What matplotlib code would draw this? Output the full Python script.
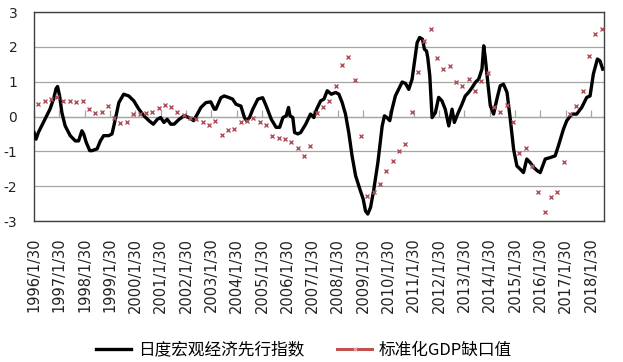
import matplotlib
matplotlib.use('Agg')
import matplotlib.pyplot as plt
import pandas as pd
from matplotlib.lines import Line2D

plt.rcParams['axes.unicode_minus'] = False

# daily leading index (decimal years)
idx_year = [1996.08, 1996.16, 1996.25, 1996.45, 1996.71, 1996.85, 1996.95,
            1997.01, 1997.09, 1997.18, 1997.31, 1997.51, 1997.71, 1997.84, 1997.97,
            1998.04, 1998.14, 1998.28, 1998.37, 1998.57, 1998.70, 1998.83,
            1999.03, 1999.16, 1999.29, 1999.43, 1999.62, 1999.82,
            2000.02, 2000.22, 2000.42, 2000.62, 2000.79, 2000.95,
            2001.08, 2001.21, 2001.34, 2001.48, 2001.61, 2001.81,
            2002.01, 2002.20, 2002.38, 2002.53, 2002.67, 2002.87,
            2003.06, 2003.20, 2003.26, 2003.46, 2003.59, 2003.79, 2003.92,
            2004.06, 2004.25, 2004.39, 2004.48, 2004.59, 2004.72, 2004.92,
            2005.11, 2005.25, 2005.45, 2005.64, 2005.78, 2005.91,
            2006.04, 2006.13, 2006.19, 2006.30, 2006.37, 2006.50,
            2006.61, 2006.81, 2007.00, 2007.13, 2007.24, 2007.40, 2007.53, 2007.66, 2007.82, 2007.99,
            2008.12, 2008.25, 2008.38, 2008.51, 2008.64, 2008.78, 2008.95,
            2009.08, 2009.17, 2009.26, 2009.37, 2009.50, 2009.66, 2009.83, 2009.92,
            2010.02, 2010.13, 2010.22, 2010.35, 2010.48, 2010.62, 2010.75, 2010.88,
            2011.01, 2011.10, 2011.21, 2011.31, 2011.42, 2011.50, 2011.58, 2011.63, 2011.71, 2011.80, 2011.93,
            2012.06, 2012.19, 2012.32, 2012.46, 2012.59, 2012.68, 2012.81, 2012.98,
            2013.11, 2013.24, 2013.38, 2013.51, 2013.64, 2013.77, 2013.84, 2013.90,
            2014.00, 2014.10, 2014.23, 2014.36, 2014.49, 2014.62, 2014.76, 2014.89,
            2015.02, 2015.15, 2015.28, 2015.41, 2015.54, 2015.67, 2015.81, 2015.96,
            2016.07, 2016.27, 2016.46, 2016.66, 2016.79, 2016.99,
            2017.12, 2017.32, 2017.51, 2017.71, 2017.91,
            2018.04, 2018.17, 2018.33, 2018.43, 2018.54]
idx_value = [-0.46, -0.65, -0.46, -0.17, 0.21, 0.50, 0.80,
             0.86, 0.59, 0.11, -0.27, -0.55, -0.70, -0.70, -0.41,
             -0.50, -0.74, -0.98, -0.98, -0.93, -0.70, -0.55,
             -0.55, -0.50, -0.08, 0.40, 0.64, 0.59,
             0.45, 0.21, 0.02, -0.12, -0.22, -0.08,
             -0.03, -0.17, -0.08, -0.22, -0.22, -0.08,
             0.02, -0.03, -0.12, 0.07, 0.26, 0.40,
             0.42, 0.21, 0.21, 0.54, 0.59, 0.54, 0.50,
             0.35, 0.30, -0.03, -0.12, -0.03, 0.21, 0.50,
             0.54, 0.30, -0.08, -0.31, -0.31, -0.03,
             0.02, 0.26, 0.02, -0.03, -0.46, -0.50,
             -0.46, -0.22, 0.07, -0.03, 0.21, 0.45, 0.50, 0.74, 0.64, 0.69,
             0.64, 0.40, 0.07, -0.46, -1.13, -1.70, -2.09,
             -2.37, -2.71, -2.80, -2.61, -2.09, -1.32, -0.27, 0.02,
             -0.03, -0.12, 0.21, 0.59, 0.78, 0.99, 0.95, 0.78,
             1.07, 1.55, 2.12, 2.27, 2.22, 1.93, 1.88, 1.69, 1.17, -0.03, 0.11,
             0.55, 0.45, 0.21, -0.27, 0.21, -0.17, 0.07, 0.35,
             0.59, 0.69, 0.83, 0.98, 1.07, 1.36, 2.03, 1.69,
             0.98, 0.31, 0.07, 0.50, 0.88, 0.93, 0.69, -0.08,
             -0.94, -1.42, -1.51, -1.61, -1.22, -1.32, -1.46, -1.56,
             -1.61, -1.22, -1.18, -1.13, -0.84, -0.36,
             -0.12, 0.07, 0.07, 0.26, 0.55,
             0.59, 1.22, 1.65, 1.60, 1.36]

# standardized GDP gap, quarterly from 1996Q1
gdp_gap = [0.35, 0.45, 0.50,
           0.57, 0.45, 0.45, 0.42,
           0.45, 0.21, 0.10, 0.13,
           0.30, -0.03, -0.19, -0.15,
           0.06, 0.06, 0.11, 0.13,
           0.23, 0.34, 0.26, 0.13,
           0.04, -0.03, -0.08, -0.15,
           -0.23, -0.12, -0.53, -0.39,
           -0.36, -0.17, -0.12, -0.03,
           -0.17, -0.25, -0.55, -0.63,
           -0.65, -0.72, -0.90, -1.12,
           -0.86, 0.10, 0.26, 0.45,
           0.88, 1.48, 1.71, 1.05,
           -0.56, -2.28, -2.18, -1.94,
           -1.56, -1.29, -0.99, -0.78,
           0.13, 1.28, 2.17, 2.51,
           1.69, 1.36, 1.44, 1.00,
           0.88, 1.09, 0.74, 1.03,
           1.24, 0.26, 0.13, 0.33,
           -0.17, -1.05, -0.91, -1.42,
           -2.16, -2.74, -2.30, -2.16,
           -1.30, 0.07, 0.29, 0.74,
           1.74, 2.36, 2.51]
gdp_dates = pd.date_range('1996-03-31', periods=len(gdp_gap), freq='QE')

tick_years = list(range(1996, 2019))
tick_labels = [f'{y}/1/30' for y in tick_years]
labels = ['日度宏观经济先行指数', '标准化GDP缺口值']


def to_year(d):
    return d.year + (d.dayofyear - 1) / 365.25


gdp_x = to_year(gdp_dates)
tick_x = [to_year(pd.Timestamp(y, 1, 30)) for y in tick_years]

grid_c = '#a6a6a6'
red = '#b0505a'

fig = plt.figure(figsize=(6.23, 3.62), dpi=100)
ax = fig.add_axes([0.0546, 0.3895, 0.9149, 0.5773])

ax.plot(idx_year, idx_value, color='black', lw=2.4, solid_joinstyle='round', zorder=3)
ax.plot(gdp_x, gdp_gap, ls='none', marker='x', ms=3.5, mew=1.0, color=red, zorder=4)

ax.set_xlim(tick_x[0], 2018.59)
ax.set_ylim(-3, 3)
ax.set_yticks(range(-3, 4))
ax.set_yticklabels([str(v) for v in range(-3, 4)])
ax.yaxis.grid(True, color=grid_c, lw=0.9)
ax.set_axisbelow(True)
ax.tick_params(axis='y', length=0, pad=12, labelsize=10, labelcolor='#222222')

ax.set_xticks(tick_x)
ax.set_xticklabels(tick_labels, rotation=90)
ax.tick_params(axis='x', length=0, pad=12, labelsize=10.5, labelcolor='#222222')

for s in ax.spines.values():
    s.set_color('#404040')
    s.set_linewidth(1.0)

# zero line with year ticks
sec = ax.secondary_xaxis(0.5)
sec.set_xticks(tick_x)
sec.xaxis.set_ticklabels([])
sec.tick_params(length=5, width=0.9, color=grid_c)
for s in sec.spines.values():
    s.set_color(grid_c)
    s.set_linewidth(0.9)

handles = [Line2D([], [], color='black', lw=2.4),
           Line2D([], [], color='#c0504d', lw=2.2, marker='x', ms=3, mew=0.8,
                  markeredgecolor='#e8b0b0')]
fig.legend(handles, labels, loc='center', bbox_to_anchor=(0.488, 0.033), ncol=2,
           frameon=False, prop={'family': ['Noto Sans CJK SC', 'DejaVu Sans'], 'size': 12},
           handlelength=2.1, handletextpad=0.4, columnspacing=2.0)

fig.savefig('out.png', dpi=100)
